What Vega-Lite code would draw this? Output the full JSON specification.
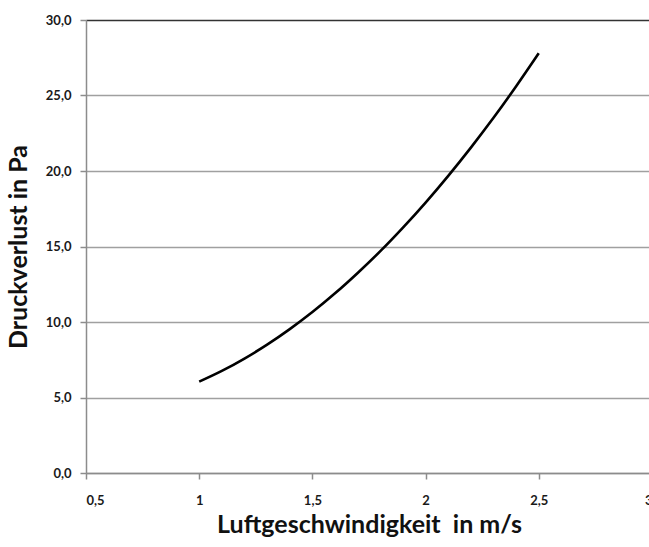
{
  "$schema": "https://vega.github.io/schema/vega-lite/v6.json",
  "width": 566,
  "height": 453,
  "autosize": {"type": "none"},
  "padding": {"left": 86, "top": 20, "right": 0, "bottom": 74},
  "background": "white",
  "config": {
    "locale": {"number": {"decimal": ",", "thousands": ".", "grouping": [3], "currency": ["", " €"]}},
    "view": {"stroke": null},
    "font": "Lato"
  },
  "data": {
    "values": [
      {"v": 1.0, "p": 6.05},
      {"v": 1.1, "p": 6.76},
      {"v": 1.2, "p": 7.58},
      {"v": 1.3, "p": 8.5},
      {"v": 1.4, "p": 9.53},
      {"v": 1.5, "p": 10.66},
      {"v": 1.6, "p": 11.9},
      {"v": 1.7, "p": 13.25},
      {"v": 1.8, "p": 14.69},
      {"v": 1.9, "p": 16.25},
      {"v": 2.0, "p": 17.91},
      {"v": 2.1, "p": 19.68},
      {"v": 2.2, "p": 21.55},
      {"v": 2.3, "p": 23.52},
      {"v": 2.4, "p": 25.61},
      {"v": 2.5, "p": 27.8}
    ]
  },
  "mark": {"type": "line", "color": "black", "strokeWidth": 2.6, "interpolate": "monotone"},
  "encoding": {
    "x": {
      "field": "v",
      "type": "quantitative",
      "scale": {"domain": [0.5, 3], "nice": false, "zero": false},
      "axis": {
        "values": [0.5, 1, 1.5, 2, 2.5, 3],
        "format": ".1~f",
        "grid": false,
        "domainColor": "#8c8c8c",
        "domainWidth": 1.5,
        "tickColor": "#8c8c8c",
        "tickSize": 6,
        "tickWidth": 1.5,
        "labelFont": "Lato",
        "labelFontWeight": "bold",
        "labelFontSize": 13,
        "labelColor": "#1a1a1a",
        "labelPadding": 15,
        "title": "Luftgeschwindigkeit\u00a0 in m/s",
        "titleFont": "Lato",
        "titleFontWeight": "bold",
        "titleFontSize": 25,
        "titleColor": "#111111",
        "titlePadding": 5
      }
    },
    "y": {
      "field": "p",
      "type": "quantitative",
      "scale": {"domain": [0, 30], "nice": false},
      "axis": {
        "values": [0, 5, 10, 15, 20, 25, 30],
        "format": ".1f",
        "grid": true,
        "gridColor": {"condition": {"test": "datum.value === 30", "value": "#333333"}, "value": "#a0a0a0"},
        "gridWidth": 1.5,
        "domainColor": "#8c8c8c",
        "domainWidth": 1.5,
        "tickColor": "#8c8c8c",
        "tickSize": 6,
        "tickWidth": 1.5,
        "labelFont": "Lato",
        "labelFontWeight": "bold",
        "labelFontSize": 13,
        "labelColor": "#1a1a1a",
        "labelPadding": 9,
        "title": "Druckverlust in Pa",
        "titleFont": "Lato",
        "titleFontWeight": "bold",
        "titleFontSize": 25,
        "titleColor": "#111111",
        "titlePadding": 14
      }
    }
  }
}
